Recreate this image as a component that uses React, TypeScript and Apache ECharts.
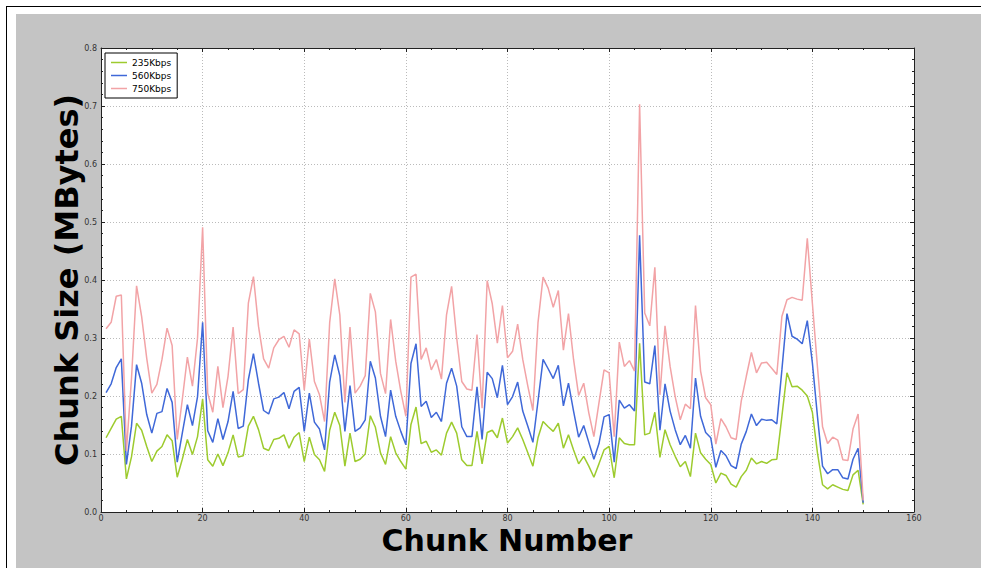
import React, { useEffect, useRef } from "react";
import * as echarts from "echarts";

const SERIES_NAMES = ["235Kbps", "560Kbps", "750Kbps"];
const SERIES_COLORS = ["#9DCB2E", "#3F68D8", "#F2A3A6"];

const X_TITLE = "Chunk Number";
const Y_TITLE = "Chunk Size (MBytes)";
const X_TICKS = [0, 20, 40, 60, 80, 100, 120, 140, 160];
const Y_TICKS = [0.0, 0.1, 0.2, 0.3, 0.4, 0.5, 0.6, 0.7, 0.8];

const KBPS_235 = [
  0.128, 0.144, 0.16, 0.165, 0.057, 0.095, 0.153, 0.141, 0.113, 0.087,
  0.105, 0.113, 0.133, 0.123, 0.06, 0.091, 0.125, 0.099, 0.13, 0.195,
  0.09, 0.079, 0.1, 0.08, 0.102, 0.133, 0.095, 0.097, 0.148, 0.165,
  0.142, 0.11, 0.106, 0.125, 0.127, 0.133, 0.11, 0.129, 0.137, 0.087,
  0.129, 0.099, 0.09, 0.07, 0.141, 0.172, 0.149, 0.079, 0.136, 0.087,
  0.091, 0.1, 0.166, 0.146, 0.102, 0.082, 0.13, 0.102, 0.087, 0.074,
  0.151, 0.181, 0.118, 0.122, 0.103, 0.107, 0.098, 0.136, 0.155, 0.136,
  0.09, 0.08, 0.08, 0.139, 0.083, 0.137, 0.141, 0.128, 0.162, 0.119,
  0.13, 0.145, 0.125, 0.102, 0.079, 0.128, 0.156, 0.147, 0.139, 0.153,
  0.11, 0.133, 0.107, 0.083, 0.096, 0.079, 0.06, 0.083, 0.107, 0.113,
  0.059, 0.128, 0.118, 0.116, 0.116, 0.291, 0.133, 0.136, 0.172, 0.094,
  0.142, 0.116, 0.096, 0.078, 0.087, 0.061, 0.136, 0.102, 0.091, 0.082,
  0.05, 0.067, 0.063, 0.048, 0.043, 0.061, 0.072, 0.093, 0.083, 0.087,
  0.084, 0.09, 0.091, 0.165, 0.24, 0.216, 0.217, 0.21, 0.2, 0.172,
  0.102, 0.047, 0.04, 0.047, 0.043, 0.039, 0.037, 0.064, 0.072, 0.013,
];

const KBPS_560 = [
  0.206, 0.221, 0.249, 0.264, 0.082, 0.148, 0.254, 0.222, 0.168, 0.136,
  0.17, 0.173, 0.213, 0.189, 0.086, 0.136, 0.185, 0.149, 0.199, 0.327,
  0.14, 0.12, 0.161, 0.125, 0.156, 0.208, 0.144, 0.148, 0.228, 0.273,
  0.222, 0.175, 0.169, 0.195, 0.198, 0.206, 0.178, 0.208, 0.215, 0.139,
  0.205, 0.155, 0.143, 0.107, 0.224, 0.271, 0.235, 0.139, 0.218, 0.139,
  0.145, 0.159, 0.26, 0.231, 0.165, 0.13, 0.21, 0.165, 0.139, 0.116,
  0.256, 0.29, 0.182, 0.191, 0.163, 0.172, 0.156, 0.222, 0.248, 0.217,
  0.147, 0.13, 0.13, 0.216, 0.125, 0.241, 0.23, 0.197, 0.253, 0.185,
  0.199, 0.224, 0.174, 0.148, 0.12, 0.191, 0.263, 0.247, 0.23, 0.253,
  0.183, 0.222, 0.174, 0.129, 0.149, 0.12, 0.091, 0.118, 0.164, 0.168,
  0.086, 0.193, 0.179, 0.185, 0.174, 0.477, 0.224, 0.221, 0.287, 0.141,
  0.221, 0.174, 0.142, 0.116, 0.132, 0.11, 0.231, 0.165, 0.137, 0.128,
  0.077, 0.106, 0.097, 0.08, 0.075, 0.117, 0.139, 0.169, 0.149, 0.16,
  0.158, 0.159, 0.152, 0.245, 0.342, 0.303, 0.298, 0.29, 0.33, 0.257,
  0.165, 0.079, 0.066, 0.073, 0.073, 0.059, 0.057, 0.091, 0.11, 0.016,
];

const KBPS_750 = [
  0.316, 0.327, 0.372, 0.374, 0.105, 0.23, 0.39, 0.337, 0.265, 0.205,
  0.22, 0.263, 0.317, 0.287, 0.125, 0.194, 0.267, 0.217, 0.3, 0.491,
  0.205, 0.172, 0.251, 0.18, 0.234, 0.319, 0.204, 0.211, 0.36, 0.406,
  0.32, 0.264, 0.248, 0.283, 0.297, 0.303, 0.284, 0.314, 0.307, 0.21,
  0.298, 0.225, 0.202, 0.156, 0.326, 0.402, 0.34, 0.189, 0.319, 0.205,
  0.217, 0.235, 0.377, 0.345, 0.239, 0.204, 0.332, 0.26, 0.208, 0.165,
  0.405, 0.41, 0.263, 0.283, 0.245, 0.263, 0.229, 0.34, 0.389, 0.3,
  0.225, 0.212, 0.21, 0.306, 0.179, 0.399, 0.359, 0.291, 0.356, 0.266,
  0.277, 0.324, 0.263, 0.217, 0.175, 0.326, 0.405, 0.386, 0.353, 0.382,
  0.279, 0.342, 0.263, 0.201, 0.222, 0.171, 0.13, 0.188, 0.245, 0.24,
  0.13, 0.293, 0.251, 0.261, 0.243, 0.703, 0.343, 0.321, 0.422, 0.202,
  0.321, 0.251, 0.199, 0.159, 0.186, 0.178, 0.356, 0.243, 0.197, 0.185,
  0.117, 0.161, 0.147, 0.128, 0.125, 0.191, 0.234, 0.275, 0.24, 0.257,
  0.258, 0.248, 0.237, 0.337, 0.366, 0.37, 0.367, 0.365, 0.472, 0.36,
  0.25, 0.147, 0.118, 0.129, 0.124, 0.09, 0.089, 0.143, 0.169, 0.02,
];

// chunk numbers start at 1
const CHUNKS = KBPS_235.map((_, i) => i + 1);

const FONT = "DejaVu Sans";

export default function App() {
  const ref = useRef<HTMLDivElement>(null);

  useEffect(() => {
    if (!ref.current) return;
    const chart = echarts.init(ref.current, undefined, { renderer: "svg" });
    const all = [KBPS_235, KBPS_560, KBPS_750];

    const axisCommon = {
      axisLine: { show: true, onZero: false, lineStyle: { color: "#222", width: 1 } },
      axisTick: { show: true, inside: true, length: 4, lineStyle: { color: "#222" } },
      minorTick: { show: true, length: 2, lineStyle: { color: "#222" } },
    };

    chart.setOption({
      animation: false,
      backgroundColor: "transparent",
      grid: {
        left: 101,
        top: 48,
        right: 67,
        bottom: 56,
        show: true,
        backgroundColor: "#ffffff",
        borderWidth: 0,
      },
      graphic: [
        {
          type: "text",
          x: 507,
          y: 540,
          style: {
            text: X_TITLE,
            align: "center",
            verticalAlign: "middle",
            fontFamily: FONT,
            fontSize: 30,
            fontWeight: "bold",
            fill: "#000",
          },
        },
        {
          type: "text",
          x: 67,
          y: 280,
          rotation: Math.PI / 2,
          style: {
            text: Y_TITLE,
            align: "center",
            verticalAlign: "middle",
            fontFamily: FONT,
            fontSize: 32,
            fontWeight: "bold",
            fill: "#000",
          },
        },
      ],
      legend: {
        data: SERIES_NAMES,
        orient: "vertical",
        left: 105,
        top: 53,
        icon: "rect",
        itemWidth: 16,
        itemHeight: 1.5,
        itemGap: 4,
        padding: [5, 6, 5, 6],
        backgroundColor: "#ffffff",
        borderColor: "#000",
        borderWidth: 1,
        borderRadius: 0,
        textStyle: { fontFamily: FONT, fontSize: 9, color: "#000" },
      },
      xAxis: [
        {
          type: "value",
          min: 0,
          max: 160,
          interval: 20,
          ...axisCommon,
          minorTick: { ...axisCommon.minorTick, splitNumber: 4 },
          axisLabel: {
            fontFamily: FONT,
            fontSize: 8,
            color: "#333",
            margin: 2,
            formatter: (v: number) => (X_TICKS.includes(v) ? String(v) : ""),
          },
          splitLine: { show: true, lineStyle: { color: "#bbb", type: [1, 2], width: 1 } },
        },
        {
          type: "value",
          position: "top",
          min: 0,
          max: 160,
          interval: 20,
          ...axisCommon,
          minorTick: { ...axisCommon.minorTick, splitNumber: 4 },
          axisLabel: { show: false },
          splitLine: { show: false },
        },
      ],
      yAxis: [
        {
          type: "value",
          min: 0,
          max: 0.8,
          interval: 0.1,
          ...axisCommon,
          minorTick: { ...axisCommon.minorTick, splitNumber: 5 },
          axisLabel: {
            fontFamily: FONT,
            fontSize: 8,
            color: "#333",
            margin: 4,
            formatter: (v: number) => {
              const t = Y_TICKS.find((y) => Math.abs(y - v) < 1e-9);
              return t === undefined ? "" : t.toFixed(1);
            },
          },
          splitLine: { show: true, lineStyle: { color: "#bbb", type: [1, 2], width: 1 } },
        },
        {
          type: "value",
          position: "right",
          min: 0,
          max: 0.8,
          interval: 0.1,
          ...axisCommon,
          minorTick: { ...axisCommon.minorTick, splitNumber: 5 },
          axisLabel: { show: false },
          splitLine: { show: false },
        },
      ],
      series: SERIES_NAMES.map((name, k) => ({
        name,
        type: "line",
        xAxisIndex: 0,
        yAxisIndex: 0,
        showSymbol: false,
        symbol: "none",
        lineStyle: { color: SERIES_COLORS[k], width: 1.5 },
        itemStyle: { color: SERIES_COLORS[k] },
        data: CHUNKS.map((c, i) => [c, all[k][i]]),
      })),
    });

    return () => chart.dispose();
  }, []);

  return (
    <div
      style={{
        position: "absolute",
        left: 0,
        top: 0,
        width: 981,
        height: 568,
        background: "#fff",
        overflow: "hidden",
      }}
    >
      <div
        style={{
          position: "absolute",
          left: 6,
          top: 6,
          width: 1000,
          height: 600,
          borderLeft: "1px solid #000",
          borderTop: "1px solid #000",
        }}
      />
      <div
        style={{
          position: "absolute",
          left: 16,
          top: 14,
          width: 965,
          height: 554,
          background: "#c4c4c4",
        }}
      />
      <div ref={ref} style={{ position: "absolute", left: 0, top: 0, width: 981, height: 568 }} />
    </div>
  );
}
